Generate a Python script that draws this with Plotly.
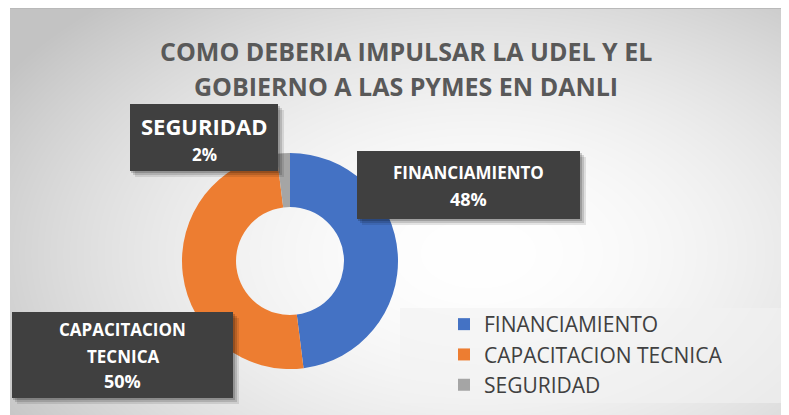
import numpy as np, zlib, struct, base64
import plotly.graph_objects as go

# ---------------- data ----------------
labels = ["FINANCIAMIENTO", "CAPACITACION TECNICA", "SEGURIDAD"]
values = [48, 50, 2]
colors = ["#4472C4", "#ED7D31", "#A5A5A5"]
title_lines = ["COMO DEBERIA IMPULSAR LA UDEL Y EL", "GOBIERNO A LAS PYMES EN DANLI"]

# ---------------- layout helpers ----------------
W, H = 789, 415
OFF = 8  # page body margin
def px(x):
    return (x - OFF) / W
def py(y):
    return 1 - (y - OFF) / H

# background gradient image (chart area style), in figure pixel coords
yy, xx = np.mgrid[0:H, 0:W].astype(float)
r = np.sqrt(((xx - 470) / 560) ** 2 + ((yy - 245) / 340) ** 2)
r = np.clip(r, 0, 1)
g = 255 - 60 * r ** 1.8
img = np.repeat(g[:, :, None], 3, axis=2)
img[:, :2, :] = 255
img[0, 2:, :] = 185
img = img.astype(np.uint8)

def to_png(arr):
    h, w, _ = arr.shape
    raw = b"".join(b"\x00" + arr[i].tobytes() for i in range(h))
    def chunk(t, d):
        c = struct.pack(">I", len(d)) + t + d
        return c + struct.pack(">I", zlib.crc32(t + d) & 0xFFFFFFFF)
    return (b"\x89PNG\r\n\x1a\n" + chunk(b"IHDR", struct.pack(">IIBBBBB", w, h, 8, 2, 0, 0, 0))
            + chunk(b"IDAT", zlib.compress(raw, 9)) + chunk(b"IEND", b""))

bg_uri = "data:image/png;base64," + base64.b64encode(to_png(img)).decode()

# donut geometry (screen px)
cx, cy, R = 290, 261, 108

fig = go.Figure()
fig.add_trace(go.Pie(
    labels=labels, values=values, sort=False, direction="clockwise", rotation=0,
    hole=0.5, marker=dict(colors=colors, line=dict(width=0)),
    textinfo="none", hoverinfo="label+percent",
    domain=dict(x=[px(cx - R), px(cx + R)], y=[py(cy + R), py(cy - R)]),
))

shapes = []
annotations = []

# legend background box
shapes.append(dict(type="rect", xref="paper", yref="paper", layer="below",
                   x0=px(400), x1=px(786), y0=py(403), y1=py(308),
                   fillcolor="rgba(242,242,242,0.6)", line=dict(width=0)))

# data callouts (positions only; text built from the data arrays)
total = sum(values)
callouts = [
    dict(box=(357, 151, 580, 219), lines=[172, 199], sizes=[17, 18]),
    dict(box=(12, 312, 233, 398), lines=[329, 356, 381], sizes=[17, 17, 18]),
    dict(box=(130, 104, 278, 171), lines=[126, 154], sizes=[22, 17]),
]
for i, c in enumerate(callouts):
    x0, y0, x1, y1 = c["box"]
    for dx, a in [(6, 0.10), (4, 0.14), (2, 0.18)]:
        shapes.append(dict(type="rect", xref="paper", yref="paper", layer="above",
                           x0=px(x0 + dx - 1), x1=px(x1 + dx), y0=py(y1 + dx), y1=py(y0 + dx),
                           fillcolor=f"rgba(0,0,0,{a})", line=dict(width=0)))
    shapes.append(dict(type="rect", xref="paper", yref="paper", layer="above",
                       x0=px(x0), x1=px(x1), y0=py(y1), y1=py(y0),
                       fillcolor="#404040", line=dict(width=0)))
    name = labels[i]
    pct = f"{round(values[i] / total * 100)}%"
    if len(c["lines"]) == 3:
        parts = name.split(" ", 1) + [pct]
    else:
        parts = [name, pct]
    for t, yline, s in zip(parts, c["lines"], c["sizes"]):
        annotations.append(dict(xref="paper", yref="paper", x=px((x0 + x1) / 2), y=py(yline),
                                xanchor="center", yanchor="middle", showarrow=False, text=f"<b>{t}</b>",
                                font=dict(family="Open Sans", size=s, color="#FFFFFF")))

# title
for t, yline in zip(title_lines, [51, 86]):
    annotations.append(dict(xref="paper", yref="paper", x=px(406), y=py(yline),
                            xanchor="center", yanchor="middle", showarrow=False, text=f"<b>{t}</b>",
                            font=dict(family="Open Sans", size=25, color="#595959")))

fig.update_layout(
    width=W, height=H, margin=dict(l=0, r=0, t=0, b=0),
    paper_bgcolor="white", plot_bgcolor="white",
    images=[dict(source=bg_uri, xref="paper", yref="paper", x=0, y=1, sizex=1, sizey=1,
                 sizing="stretch", layer="below", xanchor="left", yanchor="top")],
    shapes=shapes, annotations=annotations,
    showlegend=True,
    legend=dict(x=px(444), y=py(304), xanchor="left", yanchor="top",
                bgcolor="rgba(0,0,0,0)", font=dict(family="Open Sans", size=21, color="#404040"),
                traceorder="normal"),
)
fig.write_html("out.html")
